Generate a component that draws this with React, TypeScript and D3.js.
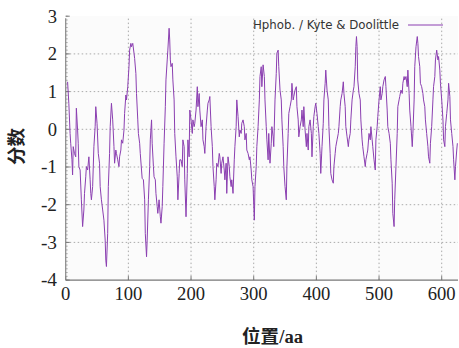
import React from "react";
import * as d3 from "d3";

const positions = [3,5,7,8,10,11,12,14,16,17,19,20,21,23,25,27,29,30,32,33,35,37,39,40,41,43,45,47,48,50,52,54,55,57,59,61,63,64,65,67,68,70,71,73,75,77,78,80,81,83,85,86,88,89,91,93,94,96,97,99,101,102,104,105,107,109,110,112,113,115,116,118,119,121,122,124,126,127,129,130,132,134,135,137,138,140,141,
143,144,146,147,149,151,152,154,155,157,159,160,162,163,165,166,167,168,170,171,173,174,176,178,179,181,182,184,186,187,189,190,192,194,195,197,198,200,202,203,205,206,208,210,211,213,214,216,218,219,221,222,224,226,227,229,230,232,234,235,237,238,240,241,243,245,246,248,249,251,253,254,256,257,259,261,262,264,265,267,269,270,272,273,275,277,278,280,281,283,285,286,288,289,291,293,294,296,297,299,301,302,
304,305,307,309,310,312,313,315,317,318,320,321,323,324,326,328,329,331,332,334,336,337,339,340,342,344,345,347,348,350,352,353,355,356,358,360,361,363,364,366,368,369,371,372,374,376,377,379,380,382,384,385,387,388,390,392,393,395,396,398,399,401,403,404,406,407,409,411,412,414,415,417,419,420,422,423,425,427,428,430,431,433,435,436,438,439,441,443,444,446,447,449,451,452,454,455,457,459,460,462,463,464,465,
466,468,470,471,473,474,476,478,479,481,482,484,486,487,489,490,492,494,495,497,498,500,502,503,505,506,508,510,511,513,514,516,518,519,521,522,524,525,527,529,530,532,533,535,537,538,540,541,543,545,546,548,549,551,553,554,556,557,559,561,562,563,565,566,568,570,571,573,574,576,578,579,581,582,584,586,587,589,590,592,594,595,597,598,600,602,603,605,606,608,610,611,613,614,616,618,619,621,622,624,625];

const scores = [1.26,0.69,-0.11,-0.37,-0.81,-1.21,-0.46,-0.64,-0.73,0.56,-0.02,-0.37,-0.99,-1.08,-1.87,-2.58,-2.14,-1.70,-1.26,-0.99,-1.08,-0.73,-1.34,-1.70,-1.87,-1.52,-0.46,0.07,0.60,0.16,-0.64,-0.90,-1.52,-1.87,-2.14,-2.41,-2.94,-3.47,-3.64,-2.76,-1.52,-0.64,0.07,0.69,0.25,-0.46,-0.90,-0.55,-0.64,-0.81,-0.99,-0.73,-0.55,-0.28,-0.37,-0.02,0.42,0.91,0.78,1.13,1.66,2.10,2.28,2.19,2.28,2.02,1.88,1.48,0.95,0.25,-0.11,-0.37,-0.64,-1.08,-1.30,-1.34,-1.87,-2.76,-3.38,-2.94,-1.87,-0.99,-0.28,0.25,-0.37,-0.99,-1.26,
-1.34,-1.70,-2.05,-2.23,-1.87,-2.32,-2.49,-2.05,-1.52,-0.37,0.60,1.31,1.84,2.10,2.68,2.37,1.84,1.66,1.75,1.31,0.78,-0.11,-0.73,-1.26,-1.87,-1.17,-0.81,-0.81,-0.99,-0.28,-0.46,-1.34,-2.32,-1.17,-0.28,-0.73,0.51,0.25,-0.11,0.25,0.07,0.16,0.51,1.13,0.60,0.95,0.51,0.07,0.25,-0.28,-0.46,-0.64,0.07,0.51,0.69,0.78,0.87,0.07,-0.46,-0.99,-1.52,-1.87,-1.34,-0.90,-0.99,-0.64,-0.73,-1.17,-0.90,-0.73,-1.08,-1.34,-0.90,-1.70,-0.73,-0.99,-1.26,-1.52,-1.34,-1.70,-0.81,-0.46,0.07,0.78,0.34,-0.20,-0.02,-0.11,0.16,0.25,0.07,-0.28,-0.11,-0.55,-0.64,-0.81,-0.73,-1.08,-1.34,-1.52,-2.41,-1.52,
-0.99,-0.46,0.07,0.78,1.40,1.66,1.13,1.71,1.40,0.78,0.07,-0.28,-0.81,-0.11,-0.90,-0.37,0.07,-0.20,-0.46,0.78,1.48,2.02,2.10,1.66,1.04,0.78,0.25,-0.46,-0.99,-1.52,-1.87,-0.99,-0.11,0.42,0.60,0.78,1.22,0.78,0.87,1.04,1.13,0.60,0.25,-0.20,0.07,0.25,0.51,0.07,0.60,-0.02,-0.46,-0.11,-0.55,0.07,0.25,-0.11,-0.73,0.07,0.34,0.60,0.69,0.42,0.07,-0.11,-0.64,-1.17,-0.46,0.16,0.78,1.22,1.57,1.04,0.78,0.07,-0.64,-1.17,-1.34,-1.43,-0.99,-0.64,-0.46,-0.28,-0.11,0.07,0.60,0.78,0.95,1.26,0.95,0.60,0.07,-0.20,-0.46,-0.28,-0.11,0.25,0.78,1.04,1.13,1.66,2.19,2.46,2.19,
1.31,0.95,0.78,0.25,-0.28,-0.46,-0.73,-0.99,-0.81,-0.64,-0.55,-0.11,-0.28,0.07,-0.28,-0.46,-0.81,-1.08,-0.28,0.07,0.34,0.78,1.13,0.78,0.95,1.13,1.31,1.40,1.13,0.51,0.07,-0.11,-0.37,-0.81,-1.43,-2.23,-2.58,-1.87,-0.99,-0.11,0.60,0.78,0.87,1.04,0.95,1.22,1.40,1.31,1.40,1.13,1.57,0.95,0.51,0.07,-0.46,-0.11,0.78,1.66,2.19,2.46,2.28,1.93,1.66,1.22,1.13,0.95,0.78,0.60,0.25,-0.11,-0.46,-0.73,-0.90,-0.37,0.07,0.78,1.13,1.40,1.84,2.10,1.84,1.93,1.57,1.22,0.78,0.25,-0.28,-0.46,0.07,0.42,0.78,1.22,0.87,0.25,-0.11,-0.46,-0.81,-1.34,-0.99,-0.55,-0.37];

const xTicks = [0, 100, 200, 300, 400, 500, 600];
const yTicks = [-4, -3, -2, -1, 0, 1, 2, 3];
const seriesName = "Hphob. / Kyte & Doolittle";
const xTitle = "位置/aa";
const yTitle = "分数";

export default function App() {
  const W = 459, H = 348;
  const left = 65.7, right = 458, top = 16.2, bottom = 280.1;
  const x = d3.scaleLinear().domain([0, 626]).range([left, right]);
  const y = d3.scaleLinear().domain([-4, 3]).range([bottom, top]);
  const data = positions.map((p, i) => [p, scores[i]] as [number, number]);
  const line = d3.line<[number, number]>().x(d => x(d[0])).y(d => y(d[1]));
  const minor = d3.range(-4, 3.001, 0.1);
  const serif = "Liberation Serif, DejaVu Serif, serif";
  const titleFont = "Liberation Serif, Noto Sans CJK SC, serif";
  const color = "#8b3fb1";
  const digitW = 9.3;
  return (
    <svg width={W} height={H} style={{ position: "absolute", left: 0, top: 0, background: "#fff" }}>
      <rect x={left} y={top} width={right - left} height={bottom - top} fill="#fbfbfb" />
      {xTicks.filter(t => t > 0).map(t => (
        <line key={"gx" + t} x1={x(t)} x2={x(t)} y1={bottom} y2={top} stroke="#aaa" strokeWidth={1} strokeDasharray="1.5,2.5" />
      ))}
      {yTicks.filter(t => t > -4 && t < 3).map(t => (
        <line key={"gy" + t} x1={left} x2={right} y1={y(t)} y2={y(t)} stroke="#aaa" strokeWidth={1} strokeDasharray="1.5,2.5" />
      ))}
      {minor.map((t, i) => (
        <line key={"m" + i} x1={left} x2={left + 2} y1={y(t)} y2={y(t)} stroke="#999" strokeWidth={0.8} />
      ))}
      {yTicks.map(t => (
        <line key={"ty" + t} x1={left} x2={left + 4} y1={y(t)} y2={y(t)} stroke="#777" strokeWidth={1} />
      ))}
      {xTicks.map(t => (
        <line key={"tx" + t} x1={x(t)} x2={x(t)} y1={bottom} y2={bottom - 4} stroke="#777" strokeWidth={1} />
      ))}
      <line x1={left} x2={left} y1={top + 2} y2={bottom} stroke="#888" strokeWidth={1.2} />
      <line x1={left} x2={right} y1={bottom} y2={bottom} stroke="#777" strokeWidth={1.2} />
      <path d={line(data) || ""} fill="none" stroke={color} strokeWidth={1} strokeLinejoin="round" />
      {yTicks.map(t => {
        const s = String(t);
        const w = s.length * digitW - (t < 0 ? 2.5 : 0);
        return (
          <text key={"ly" + t} x={57 - w} y={y(t)} dy="0.35em" textLength={w} lengthAdjust="spacingAndGlyphs" fontFamily={serif} fontSize="18px" fill="#222">{s}</text>
        );
      })}
      {xTicks.map(t => {
        const s = String(t);
        const w = s.length * digitW;
        return (
          <text key={"lx" + t} x={x(t) - w / 2} y={300} textLength={w} lengthAdjust="spacingAndGlyphs" fontFamily={serif} fontSize="18px" fill="#222">{s}</text>
        );
      })}
      <text x={242} y={343} textLength={61} lengthAdjust="spacingAndGlyphs" fontFamily={titleFont} fontWeight="bold" fontSize="18px" fill="#222">{xTitle}</text>
      <text transform={`translate(23,165) rotate(-90)`} textLength={37} lengthAdjust="spacingAndGlyphs" fontFamily={titleFont} fontWeight="bold" fontSize="18px" fill="#222">{yTitle}</text>
      <text x={253} y={29} textLength={146} lengthAdjust="spacingAndGlyphs" fontFamily="DejaVu Sans, sans-serif" fontSize="12px" fill="#333">{seriesName}</text>
      <line x1={408} x2={443} y1={25} y2={25} stroke={color} strokeWidth={1} />
    </svg>
  );
}
